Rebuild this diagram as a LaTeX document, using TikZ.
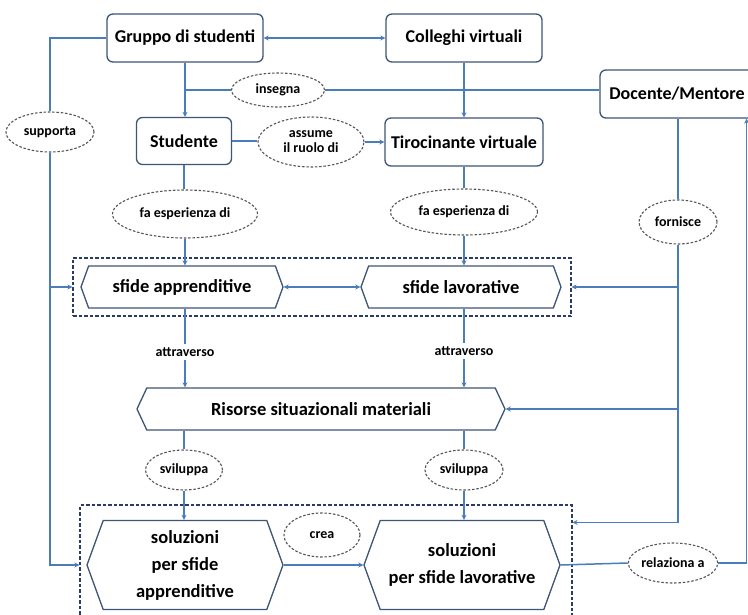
\documentclass[tikz,border=0pt]{standalone}
\usepackage{fontspec}
\setmainfont{Carlito}
\usetikzlibrary{shapes.geometric,shapes.symbols,arrows.meta,calc}
\definecolor{lineblue}{RGB}{74,126,187}
\definecolor{boxline}{RGB}{62,86,118}
\definecolor{dashgray}{RGB}{85,85,85}
\definecolor{framecol}{RGB}{40,60,100}
\begin{document}
\begin{tikzpicture}[x=1pt,y=-1pt,
  mainbox/.style={draw=boxline, line width=1.3pt, rounded corners=6pt, fill=white,
    font=\fontsize{18}{20}\selectfont\bfseries, inner sep=0pt},
  hexa/.style={signal, signal to=east and west, draw=boxline, line width=1.3pt, fill=white,
    font=\fontsize{18.5}{27}\selectfont\bfseries, inner sep=0pt, align=center, signal pointer angle=140},
  frame/.style={draw=framecol, line width=1.1pt, dash pattern=on 3.5pt off 2pt, inner sep=0pt},
  lab/.style={ellipse, draw=dashgray, line width=1.1pt, dash pattern=on 2.5pt off 1.8pt, fill=white,
    font=\fontsize{14}{15}\selectfont\bfseries, inner sep=0pt, align=center},
  txt/.style={font=\fontsize{14}{15}\selectfont\bfseries, inner sep=3pt},
  ln/.style={draw=lineblue, line width=1.5pt},
  arr/.style={ln, -{Stealth[length=5pt,width=5pt]}},
  darr/.style={ln, {Stealth[length=5pt,width=5pt]}-{Stealth[length=5pt,width=5pt]}}
]
\useasboundingbox[fill=white] (0,0) rectangle (748,615);

% dashed frames
\node[frame, minimum width=498, minimum height=58] (boxA) at (322,287) {};
\node[frame, minimum width=492, minimum height=120] (boxB) at (326,565) {};

% main boxes
\node[mainbox, minimum width=156, minimum height=48] (gruppo) at (185,38) {Gruppo di studenti};
\node[mainbox, minimum width=156, minimum height=48] (colleghi) at (464,38) {Colleghi virtuali};
\node[mainbox, minimum width=154, minimum height=48] (docente) at (677,94) {Docente/Mentore};
\node[mainbox, minimum width=95, minimum height=47] (studente) at (184,141) {Studente};
\node[mainbox, minimum width=158, minimum height=48] (tiroc) at (464,142) {Tirocinante virtuale};

% hexagons
\node[hexa, minimum width=202, minimum height=42] (sfideA) at (182,287) {sfide apprenditive};
\node[hexa, minimum width=200, minimum height=42] (sfideB) at (461,287) {sfide lavorative};
\node[hexa, minimum width=368, minimum height=42, signal pointer angle=130] (risorse) at (321,409) {Risorse situazionali materiali};
\node[hexa, minimum width=196, minimum height=89] (solA) at (185,565) {soluzioni\\per sfide\\apprenditive};
\node[hexa, minimum width=196, minimum height=89] (solB) at (462,565) {soluzioni\\per sfide lavorative};

% ellipse labels
\node[lab, minimum width=93, minimum height=34] (insegna) at (278,90) {insegna};
\node[lab, minimum width=106, minimum height=50] (assume) at (311,142) {assume\\il ruolo di};
\node[lab, minimum width=88, minimum height=40] (supporta) at (50,132) {supporta};
\node[lab, minimum width=145, minimum height=48] (faL) at (185,214) {fa esperienza di};
\node[lab, minimum width=147, minimum height=46] (faR) at (464,212) {fa esperienza di};
\node[lab, minimum width=78, minimum height=44] (fornisce) at (678,222) {fornisce};
\node[lab, minimum width=77, minimum height=40] (svilL) at (184,470) {sviluppa};
\node[lab, minimum width=78, minimum height=40] (svilR) at (464,470) {sviluppa};
\node[lab, minimum width=76, minimum height=44] (crea) at (322,535) {crea};
\node[lab, minimum width=84, minimum height=40] (relaz) at (673,563) {relaziona a};

% plain labels
\node[txt] (attL) at (185,352) {attraverso};
\node[txt] (attR) at (464,351) {attraverso};

% connectors
\draw[ln] (gruppo.west) -| (supporta.north);
\draw[arr] (supporta.south) |- (boxB.west |- solA.west);
\draw[arr] (supporta.south |- boxA.west) -- (boxA.west);
\draw[darr] (gruppo.east) -- (colleghi.west);
\draw[arr] (gruppo.south) -- (gruppo.south |- studente.north);
\draw[ln] (insegna.west) -- (insegna.west -| gruppo.south);
\draw[ln] (insegna.east) -- (insegna.east -| docente.west);
\draw[arr] (colleghi.south) -- (colleghi.south |- tiroc.north);
\draw[ln] (studente.east) -- (studente.east -| assume.west);
\draw[arr] (assume.east) -- (assume.east -| tiroc.west);
\draw[ln] (studente.south) -- (studente.south |- faL.north);
\draw[arr] (faL.south) -- (faL.south |- sfideA.north);
\draw[ln] (tiroc.south) -- (tiroc.south |- faR.north);
\draw[arr] (faR.south) -- (faR.south |- sfideB.north);
\draw[darr] (sfideA.east) -- (sfideB.west);
\draw[ln] (fornisce.north |- docente.south) -- (fornisce.north);
\draw[arr] (fornisce.south) |- ([yshift=-18pt]boxB.north east);
\draw[arr] (fornisce.south |- boxA.east) -- (boxA.east);
\draw[arr] (fornisce.south |- risorse.east) -- (risorse.east);
\draw[ln] (attL.north |- sfideA.south) -- (attL.north);
\draw[arr] (attL.south) -- (attL.south |- risorse.north);
\draw[ln] (attR.north |- sfideB.south) -- (attR.north);
\draw[arr] (attR.south) -- (attR.south |- risorse.north);
\draw[ln] (svilL.north |- risorse.south) -- (svilL.north);
\draw[arr] (svilL.south) -- (svilL.south |- solA.north);
\draw[ln] (svilR.north |- risorse.south) -- (svilR.north);
\draw[arr] (svilR.south) -- (svilR.south |- solB.north);
\draw[arr] (solA.east) -- (solB.west);
\draw[ln] (solB.east) -- (relaz.west);
\draw[arr] (relaz.east) -| ([xshift=-8pt]docente.south east);
\end{tikzpicture}
\end{document}
